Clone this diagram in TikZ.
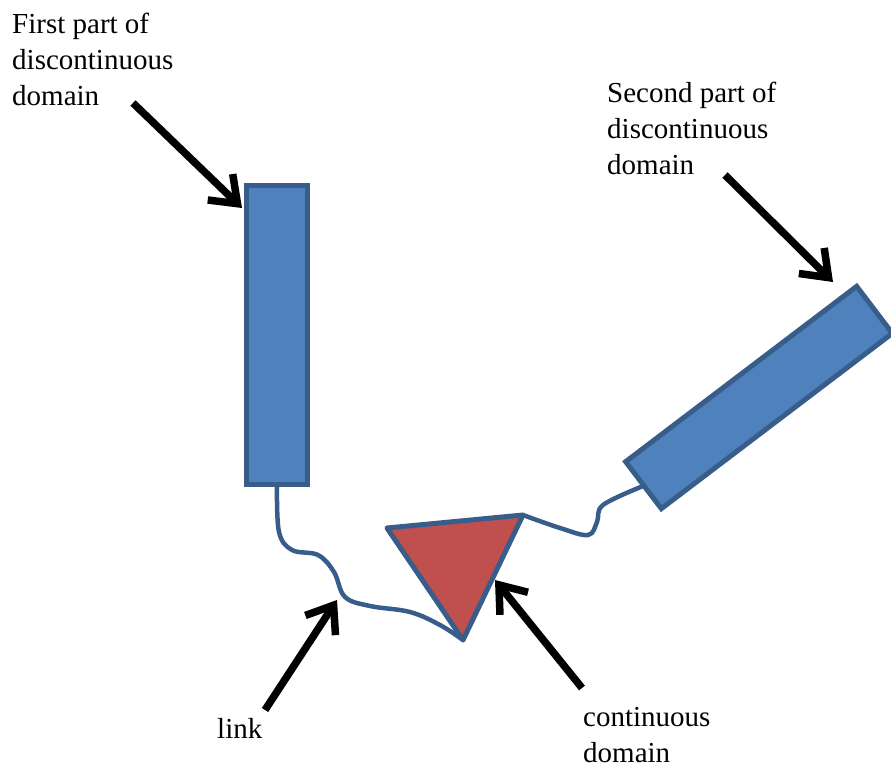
\documentclass[tikz,border=0pt]{standalone}
\usepackage{fontspec}
\setmainfont{Liberation Serif}
\usetikzlibrary{arrows.meta}

\definecolor{domblue}{HTML}{4F81BD}
\definecolor{domedge}{HTML}{385D8A}
\definecolor{domred}{HTML}{C0504D}

\tikzset{
  domainbox/.style={rectangle, draw=domedge, fill=domblue, line width=5pt, inner sep=0pt},
  linker/.style={draw=domedge, line width=4.5pt, line cap=round, line join=round},
  pointer/.style={line width=7.5pt, -{Straight Barb[length=24pt, width=36pt]}},
  caption/.style={font=\fontsize{29}{36}\selectfont, align=left, inner sep=0pt, anchor=north west},
}

\begin{document}
\begin{tikzpicture}[x=1pt, y=-1pt]
    \useasboundingbox (0,0) rectangle (891,768);

    % domains
    \node[domainbox, minimum width=61, minimum height=299] (first) at (277,335) {};
    \node[domainbox, minimum width=290, minimum height=59, rotate=37.2] (second) at (759,397.5) {};

    \coordinate (tl) at (387,528);
    \coordinate (tr) at (523,515);
    \coordinate (tb) at (463,640);
    \draw[draw=domedge, fill=domred, line width=5pt, line join=round] (tl) -- (tr) -- (tb) -- cycle;

    % links
    \draw[linker] plot[smooth, tension=0.6] coordinates {(first.south) (279,532) (292,550) (318,555) (334,572) (345,597) (370,606) (410,612) (440,625) (tb)};
    \draw[linker] plot[smooth, tension=0.6] coordinates {(tr) (560,528) (588,535) (597,522) (603,505) (second.west)};

    % captions
    \node[caption] (firstlbl) at (12,13) {First part of\\discontinuous\\domain};
    \node[caption] (secondlbl) at (607,82) {Second part of\\discontinuous\\domain};
    \node[caption] (linklbl) at (217,718) {link};
    \node[caption] (contlbl) at (583,707) {continuous\\domain};

    % pointers
    \coordinate (p1) at (133,103);
    \coordinate (q1) at (242,208);
    \coordinate (p2) at (725,175);
    \coordinate (q2) at (833,282);
    \coordinate (p3) at (265,710);
    \coordinate (q3) at (337,600);
    \coordinate (p4) at (582,688);
    \coordinate (q4) at (495,580);
    \draw[pointer] (p1) -- (q1);
    \draw[pointer] (p2) -- (q2);
    \draw[pointer] (p3) -- (q3);
    \draw[pointer] (p4) -- (q4);
\end{tikzpicture}
\end{document}
